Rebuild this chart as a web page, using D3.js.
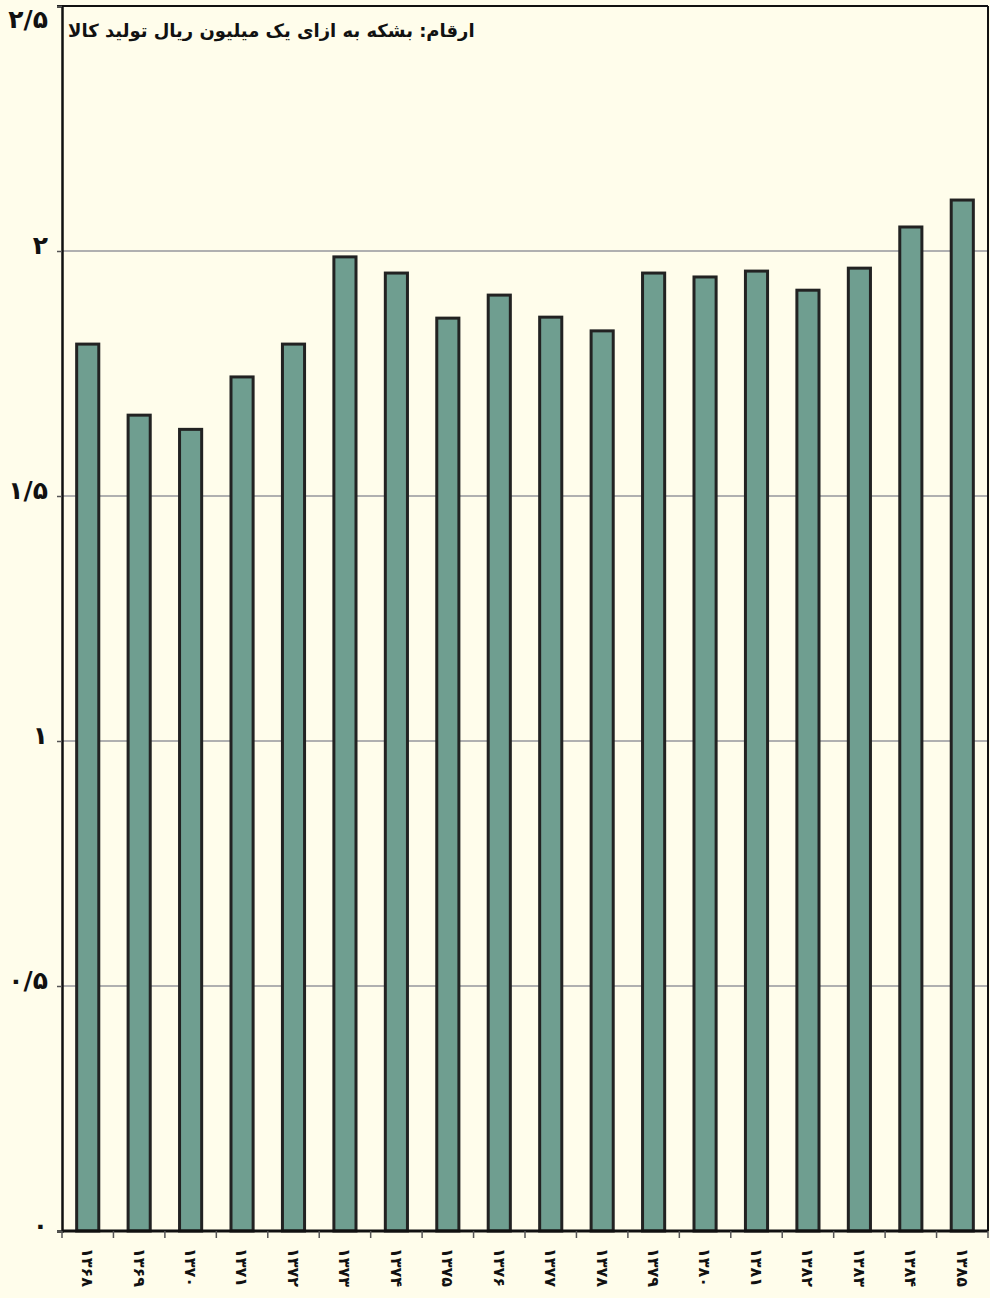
<!DOCTYPE html>
<html>
<head>
<meta charset="utf-8">
<script src="https://cdn.jsdelivr.net/npm/d3@7"></script>
<style>
  body { margin: 0; background: #fffdeb; }
  text { font-family: "DejaVu Sans", sans-serif; font-weight: bold; fill: #111; }
</style>
</head>
<body>
<div id="chart"></div>
<script>
// Data: barrels per one million rials of goods produced
const years = ["۱۳۶۸","۱۳۶۹","۱۳۷۰","۱۳۷۱","۱۳۷۲","۱۳۷۳","۱۳۷۴","۱۳۷۵","۱۳۷۶","۱۳۷۷","۱۳۷۸","۱۳۷۹","۱۳۸۰","۱۳۸۱","۱۳۸۲","۱۳۸۳","۱۳۸۴","۱۳۸۵"]
const values = [1.81, 1.665, 1.636, 1.743, 1.81, 1.988, 1.955, 1.863, 1.91, 1.865, 1.837, 1.955, 1.947, 1.959, 1.92, 1.965, 2.049, 2.104]
const yTicks = [0, 0.5, 1, 1.5, 2, 2.5]
const yTickLabels = ["۰", "۰/۵", "۱", "۱/۵", "۲", "۲/۵"]
const note = "ارقام: بشکه به ازای یک میلیون ریال تولید کالا"

const margin = { top: 6, right: 2, bottom: 67, left: 62 }
const width = 990 - margin.left - margin.right
const height = 1298 - margin.top - margin.bottom

const svg = d3.select("#chart").append("svg")
    .attr("width", width + margin.left + margin.right)
    .attr("height", height + margin.top + margin.bottom)
  .append("g")
    .attr("transform", "translate(" + margin.left + "," + margin.top + ")")

const x = d3.scaleBand()
  .domain(years)
  .range([0, width])
  .paddingInner(0.57)
  .paddingOuter(0.285)

const y = d3.scaleLinear()
  .domain([0, 2.5])
  .range([height, 0])

// gridlines
svg.selectAll(".grid")
  .data(yTicks.filter(d => d > 0 && d < 2.5))
  .join("line")
  .attr("class", "grid")
  .attr("x1", 0)
  .attr("x2", width)
  .attr("y1", d => y(d))
  .attr("y2", d => y(d))
  .attr("stroke", "#b0b0b0")
  .attr("stroke-width", 2)

// bars
svg.selectAll(".bar")
  .data(values)
  .join("rect")
  .attr("class", "bar")
  .attr("x", (d, i) => x(years[i]))
  .attr("width", x.bandwidth())
  .attr("y", d => y(d))
  .attr("height", d => height - y(d))
  .attr("fill", "#6f9e90")
  .attr("stroke", "#222")
  .attr("stroke-width", 3)

// frame top and right
svg.append("line")
  .attr("x1", -5).attr("x2", width)
  .attr("y1", 0).attr("y2", 0)
  .attr("stroke", "#111").attr("stroke-width", 2)
svg.append("line")
  .attr("x1", width).attr("x2", width)
  .attr("y1", 0).attr("y2", height)
  .attr("stroke", "#111").attr("stroke-width", 2)

// y axis
const yAxis = svg.append("g")
  .call(d3.axisLeft(y).tickValues(yTicks).tickSize(5).tickFormat((d, i) => yTickLabels[i]))
yAxis.select(".domain").attr("stroke", "#111").attr("stroke-width", 2.5)
yAxis.selectAll(".tick line").attr("stroke", "#555").attr("stroke-width", 1.5)
yAxis.selectAll(".tick text")
  .attr("x", -14)
  .attr("dy", d => d === 2.5 ? "0.85em" : "0.1em")
  .style("font-size", "25px")
  .style("font-family", "DejaVu Sans, sans-serif")
  .style("font-weight", "bold")
  .style("direction", "ltr")
  .style("unicode-bidi", "bidi-override")
  .attr("fill", "#111")

// x axis: ticks on category boundaries
const xAxis = svg.append("g")
  .attr("transform", "translate(0," + height + ")")
xAxis.append("line")
  .attr("x1", 0).attr("x2", width)
  .attr("stroke", "#111").attr("stroke-width", 3)
xAxis.selectAll(".xtick")
  .data(d3.range(years.length + 1))
  .join("line")
  .attr("class", "xtick")
  .attr("x1", i => i * x.step())
  .attr("x2", i => i * x.step())
  .attr("y1", 0).attr("y2", 7)
  .attr("stroke", "#555").attr("stroke-width", 1.5)
xAxis.selectAll(".xlabel")
  .data(years)
  .join("text")
  .attr("class", "xlabel")
  .attr("transform", d => "translate(" + (x(d) + x.bandwidth() / 2) + ",17) rotate(90)")
  .attr("dy", "0.35em")
  .attr("text-anchor", "start")
  .style("font-size", "16px")
  .style("direction", "ltr")
  .style("unicode-bidi", "bidi-override")
  .text(d => d)

// note
svg.append("text")
  .attr("x", 6)
  .attr("y", 31)
  .attr("text-anchor", "start")
  .style("font-size", "18px")
  .text(note)
</script>
</body>
</html>
